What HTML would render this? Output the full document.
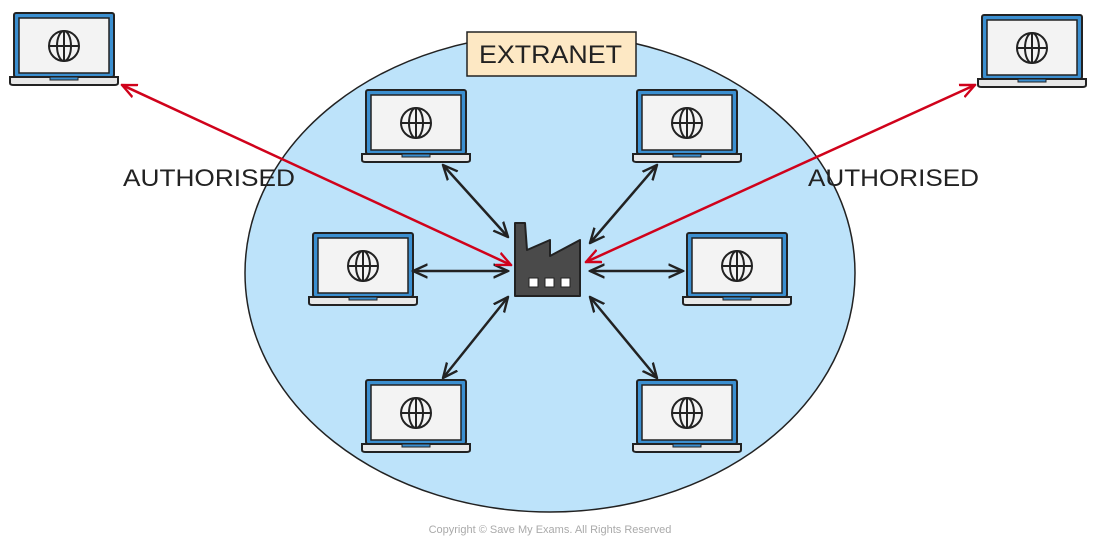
<!DOCTYPE html>
<html><head><style>
body{margin:0;background:#fff;width:1100px;height:541px;overflow:hidden}
svg{display:block}
</style></head><body>
<svg width="1100" height="541" viewBox="0 0 1100 541" xmlns="http://www.w3.org/2000/svg">
<defs>
<g id="lap">
<rect x="4" y="0" width="100" height="64" rx="2" fill="#3b8fd0" stroke="#222" stroke-width="2"/>
<rect x="9" y="5" width="90" height="55" fill="#f3f3f3" stroke="#222" stroke-width="1.5"/>
<circle cx="54" cy="33" r="15" fill="none" stroke="#222" stroke-width="2"/>
<ellipse cx="54" cy="33" rx="7" ry="15" fill="none" stroke="#222" stroke-width="2"/>
<line x1="39" y1="33" x2="69" y2="33" stroke="#222" stroke-width="2"/>
<line x1="54" y1="18" x2="54" y2="48" stroke="#222" stroke-width="2"/>
<path d="M0 64 H108 V70 Q108 72 104 72 H4 Q0 72 0 70 Z" fill="#e8e8e8" stroke="#222" stroke-width="2"/>
<rect x="40" y="64" width="28" height="3" fill="#3b8fd0" stroke="#222" stroke-width="1"/>
</g>
<marker id="ak" viewBox="0 0 12 12" refX="11" refY="6" markerWidth="16" markerHeight="16" orient="auto-start-reverse" markerUnits="userSpaceOnUse"><path d="M0 1 L11 6 L0 11" fill="none" stroke="#222" stroke-width="1.8"/></marker>
<marker id="ar" viewBox="0 0 12 12" refX="11" refY="6" markerWidth="16" markerHeight="16" orient="auto-start-reverse" markerUnits="userSpaceOnUse"><path d="M0 1 L11 6 L0 11" fill="none" stroke="#d0021b" stroke-width="1.8"/></marker>
</defs>
<ellipse cx="550" cy="273" rx="305" ry="239" fill="#bde3fa" stroke="#222" stroke-width="1.5"/>
<rect x="467" y="32" width="169" height="44" fill="#fde8c4" stroke="#222" stroke-width="1.5"/>
<text x="479" y="63" font-family="Liberation Sans, sans-serif" font-size="25" textLength="143" lengthAdjust="spacingAndGlyphs" fill="#222">EXTRANET</text>
<use href="#lap" x="10" y="13"/>
<use href="#lap" x="978" y="15"/>
<use href="#lap" x="362" y="90"/>
<use href="#lap" x="633" y="90"/>
<use href="#lap" x="309" y="233"/>
<use href="#lap" x="683" y="233"/>
<use href="#lap" x="362" y="380"/>
<use href="#lap" x="633" y="380"/>
<path d="M515 296 V223 H525 L527 250 L550 240 V256 L580 240 V296 Z" fill="#4a4a4a" stroke="#222" stroke-width="2" stroke-linejoin="round"/>
<rect x="529" y="278" width="9" height="9" fill="#fff" stroke="#222"/>
<rect x="545" y="278" width="9" height="9" fill="#fff" stroke="#222"/>
<rect x="561" y="278" width="9" height="9" fill="#fff" stroke="#222"/>
<g stroke="#222" stroke-width="2.5" marker-start="url(#ak)" marker-end="url(#ak)">
<line x1="443" y1="165" x2="508" y2="237"/>
<line x1="657" y1="165" x2="590" y2="243"/>
<line x1="413" y1="271" x2="508" y2="271"/>
<line x1="590" y1="271" x2="683" y2="271"/>
<line x1="443" y1="378" x2="508" y2="297"/>
<line x1="657" y1="378" x2="590" y2="297"/>
</g>
<g stroke="#d0021b" stroke-width="2.5" marker-start="url(#ar)" marker-end="url(#ar)">
<line x1="122" y1="85" x2="511" y2="265"/>
<line x1="975" y1="85" x2="586" y2="262"/>
</g>
<text x="123" y="186" font-family="Liberation Sans, sans-serif" font-size="24" textLength="172" lengthAdjust="spacingAndGlyphs" fill="#222">AUTHORISED</text>
<text x="808" y="186" font-family="Liberation Sans, sans-serif" font-size="24" textLength="171" lengthAdjust="spacingAndGlyphs" fill="#222">AUTHORISED</text>
<text x="550" y="533" font-family="Liberation Sans, sans-serif" font-size="11" text-anchor="middle" fill="#aaa">Copyright © Save My Exams. All Rights Reserved</text>
</svg>
</body></html>
